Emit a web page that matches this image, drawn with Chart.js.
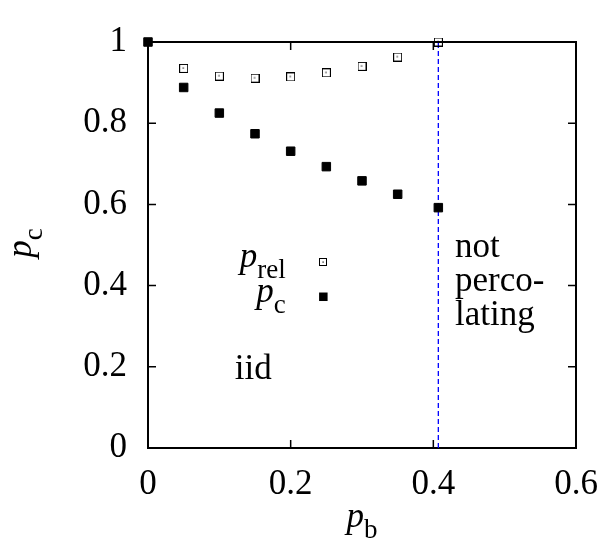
<!DOCTYPE html>
<html>
<head>
<meta charset="utf-8">
<script src="https://cdn.jsdelivr.net/npm/chart.js@4.4.1/dist/chart.umd.min.js"></script>
<style>
html,body{margin:0;padding:0;background:#fff;}
#wrap{width:616px;height:540px;}
</style>
</head>
<body>
<div id="wrap"><canvas id="c" width="616" height="540"></canvas></div>
<script>
// ---- data ----
const pbValues   = [0, 0.05, 0.1, 0.15, 0.2, 0.25, 0.3, 0.35, 0.407];
const pcValues   = [1, 0.888, 0.825, 0.774, 0.731, 0.693, 0.658, 0.625, 0.592];
const pbRelValues = [0.05, 0.1, 0.15, 0.2, 0.25, 0.3, 0.35, 0.407];
const prelValues  = [0.935, 0.916, 0.911, 0.914, 0.924, 0.940, 0.963, 1.0];
const cutoffPb = 0.407;
const xTicks = [0, 0.2, 0.4, 0.6];
const yTicks = [0, 0.2, 0.4, 0.6, 0.8, 1];
const annoIid = 'iid';
const annoNotPerc = ['not', 'perco-', 'lating'];

// ---- layout/style constants ----
const FONT = '"Liberation Serif"';
const FS = 35, SUBFS = 27, SUBSHIFT = 11;
const legendPos = {textX: 0.193, markerX: 0.2458, rowsY: [0.459, 0.3725], baseOff: 5};
const iidPos = {x: 0.1216, y: 0.1707};
const notPercPos = {x: 0.4303, ys: [0.4707, 0.3861, 0.3040]};

function makeOpenSquare(side) {
  const c = document.createElement('canvas');
  c.width = side; c.height = side;
  const g = c.getContext('2d');
  g.strokeStyle = '#000'; g.lineWidth = 1;
  g.strokeRect(0.5, 0.5, side - 1, side - 1);
  g.fillStyle = '#000';
  g.fillRect(Math.floor(side / 2) - 0.5, Math.floor(side / 2) - 0.5, 1.2, 1.2);
  return c;
}
const openSq = makeOpenSquare(9);

function subText(ctx, main, sub, x, y, align) {
  ctx.font = 'italic ' + FS + 'px ' + FONT;
  const w1 = ctx.measureText(main).width;
  ctx.font = SUBFS + 'px ' + FONT;
  const w2 = ctx.measureText(sub).width;
  let x0 = x;
  if (align === 'right') x0 = x - w1 - w2;
  else if (align === 'center') x0 = x - (w1 + w2) / 2;
  ctx.textAlign = 'left';
  ctx.textBaseline = 'alphabetic';
  ctx.font = 'italic ' + FS + 'px ' + FONT;
  ctx.fillText(main, x0, y);
  ctx.font = SUBFS + 'px ' + FONT;
  ctx.fillText(sub, x0 + w1, y + SUBSHIFT);
}

const framePlugin = {
  id: 'frame',
  beforeDatasetsDraw(chart) {
    const {ctx, chartArea: a, scales: {x, y}} = chart;
    ctx.save();
    ctx.strokeStyle = '#000';
    ctx.lineWidth = 2;
    ctx.strokeRect(a.left, a.top, a.right - a.left, a.bottom - a.top);
    ctx.lineWidth = 1.5;
    const TL = 8;
    ctx.beginPath();
    xTicks.forEach(v => {
      const px = x.getPixelForValue(v);
      ctx.moveTo(px, a.bottom); ctx.lineTo(px, a.bottom - TL);
      ctx.moveTo(px, a.top); ctx.lineTo(px, a.top + TL);
    });
    yTicks.forEach(v => {
      const py = y.getPixelForValue(v);
      ctx.moveTo(a.left, py); ctx.lineTo(a.left + TL, py);
      ctx.moveTo(a.right, py); ctx.lineTo(a.right - TL, py);
    });
    ctx.stroke();
    ctx.restore();
  },
  afterDatasetsDraw(chart) {
    const {ctx, chartArea: a, scales: {x, y}} = chart;
    ctx.save();
    ctx.fillStyle = '#000';
    // axis titles
    subText(ctx, 'p', 'b', (a.left + a.right) / 2, a.bottom + 79, 'center');
    ctx.save();
    ctx.translate(31, (a.top + a.bottom) / 2 - 2);
    ctx.rotate(-Math.PI / 2);
    subText(ctx, 'p', 'c', 0, 0, 'center');
    ctx.restore();
    // legend
    const tx = x.getPixelForValue(legendPos.textX);
    const mx = x.getPixelForValue(legendPos.markerX);
    const r1 = y.getPixelForValue(legendPos.rowsY[0]);
    const r2 = y.getPixelForValue(legendPos.rowsY[1]);
    subText(ctx, 'p', 'rel', tx, r1 + legendPos.baseOff, 'right');
    subText(ctx, 'p', 'c', tx, r2 + legendPos.baseOff, 'right');
    ctx.drawImage(makeOpenSquare(8), Math.round(mx - 4), Math.round(r1 - 4));
    ctx.fillRect(mx - 4.25, r2 - 4.25, 8.5, 8.5);
    // annotations
    ctx.font = FS + 'px ' + FONT;
    ctx.textAlign = 'left';
    ctx.textBaseline = 'alphabetic';
    ctx.fillText(annoIid, x.getPixelForValue(iidPos.x), y.getPixelForValue(iidPos.y));
    annoNotPerc.forEach((t, i) => {
      ctx.fillText(t, x.getPixelForValue(notPercPos.x), y.getPixelForValue(notPercPos.ys[i]));
    });
    ctx.restore();
  }
};

const tickFont = {family: 'Liberation Serif', size: FS};

new Chart(document.getElementById('c'), {
  type: 'scatter',
  data: {
    datasets: [
      {
        label: 'p_rel',
        data: pbRelValues.map((v, i) => ({x: v, y: prelValues[i]})),
        pointStyle: openSq,
        pointRadius: 4.5,
        clip: false
      },
      {
        label: 'p_c',
        data: pbValues.map((v, i) => ({x: v, y: pcValues[i]})),
        pointStyle: 'rect',
        pointRadius: 6,
        backgroundColor: '#000',
        borderColor: '#000',
        borderWidth: 1,
        clip: false
      },
      {
        type: 'line',
        label: 'cutoff',
        data: [{x: cutoffPb, y: 0}, {x: cutoffPb, y: 1}],
        borderColor: '#0000ff',
        borderWidth: 1.3,
        borderDash: [5, 3],
        pointRadius: 0,
        fill: false
      }
    ]
  },
  options: {
    responsive: false,
    animation: false,
    devicePixelRatio: 1,
    layout: {padding: {top: 22, right: 40, bottom: 0, left: 0}},
    plugins: {legend: {display: false}, tooltip: {enabled: false}},
    scales: {
      x: {
        type: 'linear', min: 0, max: 0.6,
        afterBuildTicks: s => { s.ticks = xTicks.map(v => ({value: v})); },
        afterFit: s => { s.height = 92; },
        ticks: {callback: v => String(v), font: tickFont, color: '#000', padding: 16, maxRotation: 0, autoSkip: false},
        grid: {display: false, drawTicks: false},
        border: {display: false}
      },
      y: {
        type: 'linear', min: 0, max: 1,
        afterBuildTicks: s => { s.ticks = yTicks.map(v => ({value: v})); },
        afterFit: s => { s.width = 148; },
        ticks: {callback: v => String(v), font: tickFont, color: '#000', padding: 21, autoSkip: false},
        grid: {display: false, drawTicks: false},
        border: {display: false}
      }
    }
  },
  plugins: [framePlugin]
});
</script>
</body>
</html>
